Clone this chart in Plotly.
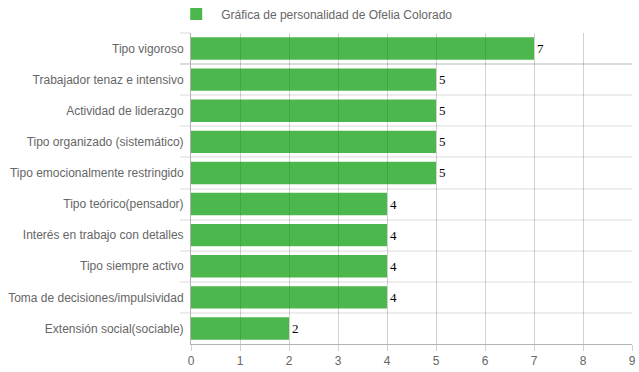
import plotly.graph_objects as go

categories = [
    "Tipo vigoroso",
    "Trabajador tenaz e intensivo",
    "Actividad de liderazgo",
    "Tipo organizado (sistemático)",
    "Tipo emocionalmente restringido",
    "Tipo teórico(pensador)",
    "Interés en trabajo con detalles",
    "Tipo siempre activo",
    "Toma de decisiones/impulsividad",
    "Extensión social(sociable)",
]
values = [7, 5, 5, 5, 5, 4, 4, 4, 4, 2]
series_name = "Gráfica de personalidad de Ofelia Colorado"
x_ticks = list(range(0, 10))

W, H = 639, 372

fig = go.Figure()
fig.add_trace(go.Bar(
    x=values,
    y=categories,
    orientation="h",
    name=series_name,
    width=0.72,
    marker=dict(color="rgba(0,153,0,0.7)", line=dict(width=0)),
    text=[str(v) for v in values],
    textposition="outside",
    cliponaxis=False,
    textfont=dict(family="Liberation Serif, DejaVu Serif, serif", size=13, color="#000"),
    hoverinfo="x+y",
    showlegend=True,
))

fig.update_layout(
    width=W,
    height=H,
    margin=dict(l=191, r=7, t=33, b=28, autoexpand=False),
    plot_bgcolor="white",
    paper_bgcolor="white",
    font=dict(family="Liberation Sans, Arial, sans-serif", size=12, color="#666"),
    showlegend=True,
    legend=dict(
        orientation="h",
        xref="container", yref="container",
        x=0.4925, xanchor="center",
        y=1 - 14 / H, yanchor="middle",
        font=dict(size=12, color="#666"),
        itemwidth=40,
    ),
    bargap=0.28,
)

fig.update_xaxes(
    range=[0, 9],
    tickvals=x_ticks,
    showgrid=True,
    gridcolor="rgba(0,0,0,0.18)",
    gridwidth=1,
    zeroline=False,
    showline=True,
    linecolor="rgba(0,0,0,0.3)",
    ticks="outside",
    ticklen=6,
    tickcolor="rgba(0,0,0,0.18)",
    tickfont=dict(size=12, color="#666"),
)

fig.update_yaxes(
    type="category",
    autorange="reversed",
    tickson="boundaries",
    showgrid=True,
    gridcolor="rgba(0,0,0,0.07)",
    gridwidth=2,
    showline=True,
    linecolor="rgba(0,0,0,0.3)",
    ticks="outside",
    ticklen=10,
    tickcolor="rgba(0,0,0,0.07)",
    tickwidth=2,
    tickfont=dict(size=12, color="#666"),
    ticklabelstandoff=4,
)

fig.write_html(
    "out.html",
    config={"displayModeBar": False},
    post_script="document.body.style.margin='0';document.body.style.overflow='hidden';",
)
